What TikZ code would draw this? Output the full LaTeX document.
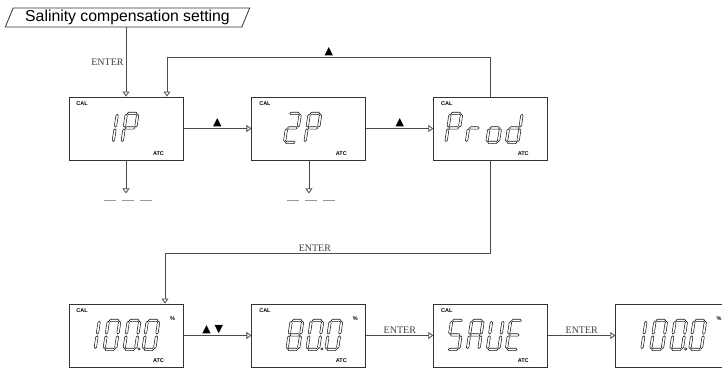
\documentclass[tikz,border=0pt]{standalone}
\usepackage{fontspec}
\setmainfont{Liberation Serif}
\newfontfamily\labelfont{Liberation Sans}
\newfontfamily\symbolfont{DejaVu Sans}
\usetikzlibrary{shapes.geometric, arrows.meta, positioning, calc}

% seven segment pieces (digit frame: w=11.5, h=29)
\newcommand{\segA}{\draw[lcd] (0.9,29) -- ++(1.2,1.2) -- ++(7.3,0) -- ++(1.2,-1.2) -- ++(-1.2,-1.2) -- ++(-7.3,0) -- cycle;}
\newcommand{\segG}{\draw[lcd] (0.9,14.5) -- ++(1.2,1.2) -- ++(7.3,0) -- ++(1.2,-1.2) -- ++(-1.2,-1.2) -- ++(-7.3,0) -- cycle;}
\newcommand{\segD}{\draw[lcd] (0.9,0) -- ++(1.2,1.2) -- ++(7.3,0) -- ++(1.2,-1.2) -- ++(-1.2,-1.2) -- ++(-7.3,0) -- cycle;}
\newcommand{\segF}{\draw[lcd] (0,15.4) -- ++(1.2,1.2) -- ++(0,10.3) -- ++(-1.2,1.2) -- ++(-1.2,-1.2) -- ++(0,-10.3) -- cycle;}
\newcommand{\segE}{\draw[lcd] (0,0.9) -- ++(1.2,1.2) -- ++(0,10.3) -- ++(-1.2,1.2) -- ++(-1.2,-1.2) -- ++(0,-10.3) -- cycle;}
\newcommand{\segB}{\draw[lcd] (11.5,15.4) -- ++(1.2,1.2) -- ++(0,10.3) -- ++(-1.2,1.2) -- ++(-1.2,-1.2) -- ++(0,-10.3) -- cycle;}
\newcommand{\segC}{\draw[lcd] (11.5,0.9) -- ++(1.2,1.2) -- ++(0,10.3) -- ++(-1.2,1.2) -- ++(-1.2,-1.2) -- ++(0,-10.3) -- cycle;}

% one display character: box, offset from the left side, segments
\newcommand{\lcdchar}[3]{%
  \begin{scope}[shift={(#1.south west)}, xshift=#2, yshift=18, xslant=0.15]
    \foreach \s in {#3} {\csname seg\s\endcsname}
  \end{scope}}
\newcommand{\lcddot}[2]{\draw[lcd] ($(#1.south west)+(#2,18.5)$) circle (1.2);}

\begin{document}
\begin{tikzpicture}[
    x=1pt, y=1pt,
    heading/.style={
        trapezium,
        trapezium left angle=67,
        trapezium right angle=113,
        trapezium stretches=true,
        draw=black!80,
        line width=0.8pt,
        minimum width=245pt,
        minimum height=19pt,
        inner sep=1pt,
        font=\labelfont\fontsize{15.8}{16}\selectfont
    },
    display/.style={
        rectangle,
        draw=black!80,
        line width=0.9pt,
        minimum width=114pt,
        minimum height=63pt,
        inner sep=0pt
    },
    lcd/.style={draw=black!90, line width=0.55pt},
    tag/.style={inner sep=0pt, font=\labelfont\bfseries\fontsize{5.5}{5.5}\selectfont},
    keylabel/.style={inner sep=2pt, text=black!75, font=\fontsize{10}{10}\selectfont},
    keysym/.style={inner sep=1pt, font=\symbolfont\fontsize{11}{11}\selectfont},
    blank/.style={draw=black!40, line width=1.6pt, dash pattern=on 12pt off 6pt},
    arrow/.style={
        draw=black!70,
        line width=0.8pt,
        -{Triangle[open, length=5pt, width=7pt]}
    }
]
\useasboundingbox (0,0) rectangle (722,369);

% Title
\node (title) [heading] at (127.5,351.5) {Salinity compensation setting};

% Upper row of displays
\node (box1) [display] at (126,240.5) {};
\node (box2) [display, right=68pt of box1] {};
\node (box3) [display, right=67pt of box2] {};

% Lower row of displays
\node (box4) [display] at (126,33.5) {};
\node (box5) [display, right=68pt of box4] {};
\node (box6) [display, right=67pt of box5] {};
\node (box7) [display, right=67pt of box6] {};

% Small marks on the displays
\foreach \b in {box1,box2,box3,box4,box5,box6}
    \node (cal-\b) [tag] at ([xshift=13.5pt, yshift=-7pt]\b.north west) {CAL};
\foreach \b in {box1,box2,box3,box4,box5,box6}
    \node (atc-\b) [tag] at ([xshift=-25pt, yshift=7pt]\b.south east) {ATC};
\foreach \b in {box4,box5,box7}
    \node (pct-\b) [tag] at ([xshift=-11pt, yshift=-15.5pt]\b.north east) {\%};

% Readouts
\lcdchar{box1}{33}{B,C}
\lcdchar{box1}{53.5}{A,B,E,F,G}
\lcdchar{box2}{33}{A,B,G,E,D}
\lcdchar{box2}{53.5}{A,B,E,F,G}
\lcdchar{box3}{12.5}{A,B,E,F,G}
\lcdchar{box3}{33}{E,G}
\lcdchar{box3}{53.5}{C,D,E,G}
\lcdchar{box3}{73}{B,C,D,E,G}

\foreach \b in {box4,box7} {
    \lcdchar{\b}{15}{B,C}
    \lcdchar{\b}{35.5}{A,B,C,D,E,F}
    \lcdchar{\b}{55.5}{A,B,C,D,E,F}
    \lcddot{\b}{70.5}
    \lcdchar{\b}{74.5}{A,B,C,D,E,F}
}
\lcdchar{box5}{35.5}{A,B,C,D,E,F,G}
\lcdchar{box5}{55.5}{A,B,C,D,E,F}
\lcddot{box5}{70.5}
\lcdchar{box5}{74.5}{A,B,C,D,E,F}
\lcdchar{box6}{14}{A,F,G,C,D}
\lcdchar{box6}{34}{A,B,C,E,F,G}
\lcdchar{box6}{54}{B,C,D,E,F}
\lcdchar{box6}{73}{A,D,E,F,G}

% Arrows - upper row
\draw [arrow] (box1.north |- title.south) -- node[keylabel, left] {ENTER} (box1.north);
\draw [arrow] (box1) -- node[keysym, above] {▲} (box2);
\draw [arrow] (box2) -- node[keysym, above] {▲} (box3);
\draw [arrow] (box3.north) -- ++(0,39) -| node[keysym, above, pos=0.25] {▲} ([xshift=41pt]box1.north);

% Arrows - to the blank readouts
\coordinate [below=33pt of box1.south] (end1);
\coordinate [below=33pt of box2.south] (end2);
\draw [arrow] (box1.south) -- (end1);
\draw [arrow] (box2.south) -- (end2);
\draw [blank] ([xshift=-22pt, yshift=-7pt]end1) -- ++(48,0);
\draw [blank] ([xshift=-22pt, yshift=-7pt]end2) -- ++(48,0);

% Arrows - lower row
\draw [arrow] (box3.south) -- ++(0,-93) -| node[keylabel, above, pos=0.27] {ENTER} ([xshift=39pt]box4.north);
\draw [arrow] (box4) -- node[keysym, above, pos=0.43] {▲\,\,▼} (box5);
\draw [arrow] (box5) -- node[keylabel, above] {ENTER} (box6);
\draw [arrow] (box6) -- node[keylabel, above] {ENTER} (box7);

\end{tikzpicture}
\end{document}
